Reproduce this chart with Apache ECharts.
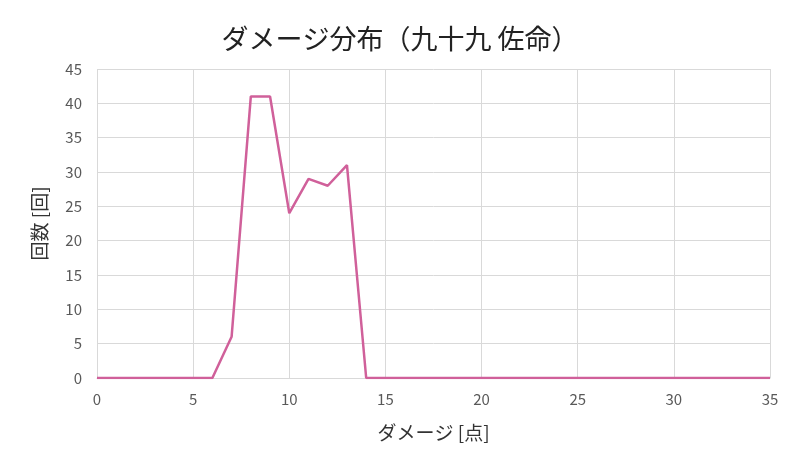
<!DOCTYPE html>
<html><head><meta charset="utf-8">
<script src="https://cdn.jsdelivr.net/npm/echarts@6/dist/echarts.min.js"></script>
<style>html,body{margin:0;padding:0;background:#fff}#c{width:800px;height:458px}</style>
</head><body><div id="c"></div>
<script>
const titleText = 'ダメージ分布（九十九 佐命）';
const xName = 'ダメージ [点]';
const yName = '回数 [回]';
const damage = [0,1,2,3,4,5,6,7,8,9,10,11,12,13,14,15,16,17,18,19,20,21,22,23,24,25,26,27,28,29,30,31,32,33,34,35];
const counts = [0,0,0,0,0,0,0,6,41,41,24,29,28,31,0,0,0,0,0,0,0,0,0,0,0,0,0,0,0,0,0,0,0,0,0,0];
const font = '"Noto Sans CJK JP", "Noto Sans", sans-serif';
const chart = echarts.init(document.getElementById('c'), null, {renderer:'canvas'});
chart.setOption({
  animation:false,
  title:{text:titleText,left:'center',top:20,textStyle:{fontFamily:font,fontSize:27,fontWeight:'normal',color:'#222'}},
  grid:{left:97,right:30,top:69,bottom:80},
  xAxis:{type:'value',min:0,max:35,interval:5,name:xName,nameLocation:'middle',nameGap:45,
    nameTextStyle:{fontFamily:font,fontSize:19,color:'#333'},
    axisLine:{show:true,lineStyle:{color:'#d9d9d9'}},axisTick:{show:false},
    axisLabel:{fontFamily:font,fontSize:15,color:'#595959',margin:14},
    splitLine:{show:true,lineStyle:{color:'#d9d9d9'}}},
  yAxis:{type:'value',min:0,max:45,interval:5,name:yName,nameLocation:'middle',nameGap:48,
    nameTextStyle:{fontFamily:font,fontSize:19,color:'#333'},
    axisLine:{show:false},axisTick:{show:false},
    axisLabel:{fontFamily:font,fontSize:15,color:'#595959',margin:15},
    splitLine:{show:true,lineStyle:{color:'#d9d9d9'}}},
  series:[{type:'line',data:damage.map((d,i)=>[d,counts[i]]),showSymbol:false,
    lineStyle:{color:'#d0609a',width:2.5},itemStyle:{color:'#d0609a'}}]
});
</script></body></html>
